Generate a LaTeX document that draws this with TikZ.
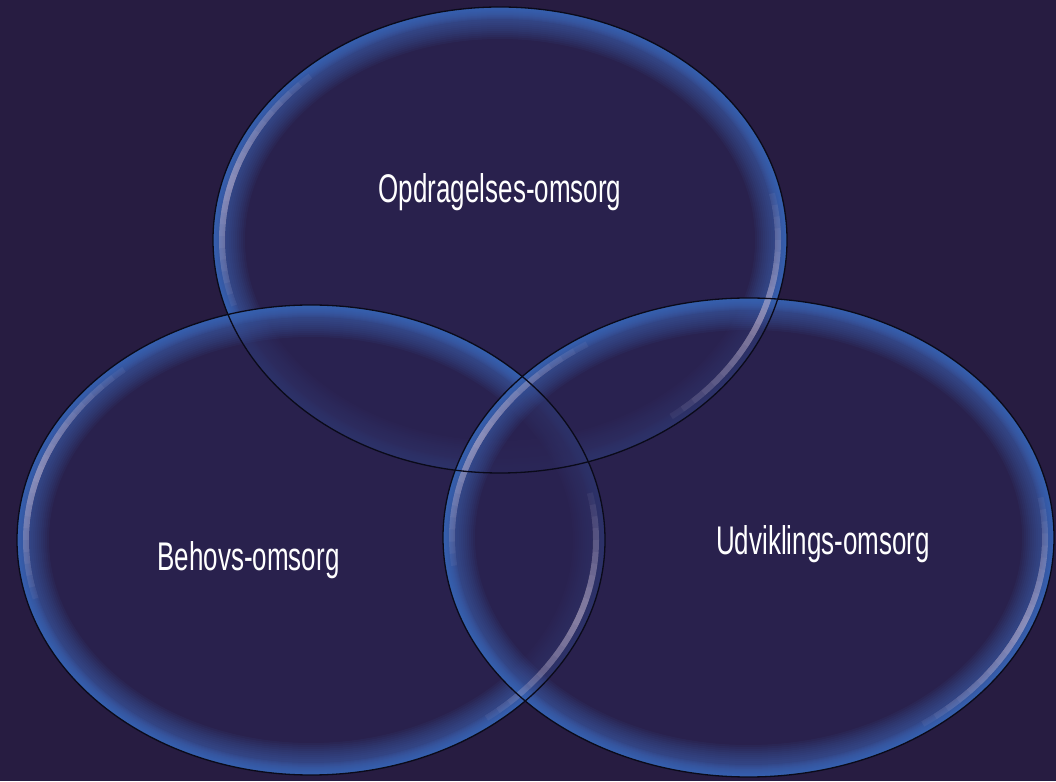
\documentclass[tikz,border=0pt]{standalone}
\usepackage{fontspec}
\setmainfont{Liberation Sans}[FakeStretch=0.65]
\definecolor{bgc}{RGB}{39,28,65}
\definecolor{inc}{RGB}{42,35,82}
\definecolor{glowc}{RGB}{64,108,190}
\definecolor{hic}{RGB}{205,190,215}
\definecolor{edgec}{RGB}{10,10,25}
\newcommand\ellfill[4]{%
  \begin{scope}
    \clip (#1,#2) ellipse [x radius=#3, y radius=#4];
    \fill[inc, opacity=0.75] (#1,#2) ellipse [x radius=#3, y radius=#4];
    \foreach \w in {4,8,...,64}
      \draw[glowc, opacity=0.07, line width=\w pt] (#1,#2) ellipse [x radius=#3, y radius=#4];
    \foreach \w in {2,4,...,24}
      \draw[glowc, opacity=0.09, line width=\w pt] (#1,#2) ellipse [x radius=#3, y radius=#4];
  \end{scope}}
\newcommand\ellhi[5]{%
  \foreach \s in {32,29,...,2}
    \draw[hic, opacity=0.075, line width=6pt]
      ({#1+(#3-9)*cos(#5-\s)},{#2+(#4-9)*sin(#5-\s)})
      arc[start angle={#5-\s}, end angle={#5+\s}, x radius={#3-9}, y radius={#4-9}];}
\tikzset{lbl/.style={font=\fontsize{40}{48}\selectfont, text=white, inner sep=0pt, anchor=base},
  rim/.style={draw=edgec, line width=1.3pt}}
\begin{document}
\begin{tikzpicture}[x=1pt,y=1pt]
\fill[bgc] (0,0) rectangle (1056,781);
\useasboundingbox (0,0) rectangle (1056,781);
% fills and glows
\ellfill{500}{541}{287}{233}
\ellfill{311}{241}{294}{235}
\ellfill{748.5}{243.5}{305.5}{239.5}
% highlights
\ellhi{500}{541}{287}{233}{165}
\ellhi{500}{541}{287}{233}{-20}
\ellhi{311}{241}{294}{235}{163}
\ellhi{311}{241}{294}{235}{-20}
\ellhi{748.5}{243.5}{305.5}{239.5}{155}
\ellhi{748.5}{243.5}{305.5}{239.5}{-22}
% rims
\draw[rim] (500,541) ellipse [x radius=287, y radius=233];
\draw[rim] (311,241) ellipse [x radius=294, y radius=235];
\draw[rim] (748.5,243.5) ellipse [x radius=305.5, y radius=239.5];
% labels
\node[lbl] (opd) at (500,578) {Opdragelses-omsorg};
\node[lbl] (beh) at (248.5,210) {Behovs-omsorg};
\node[lbl] (udv) at (823,226) {Udviklings-omsorg};
\end{tikzpicture}
\end{document}
